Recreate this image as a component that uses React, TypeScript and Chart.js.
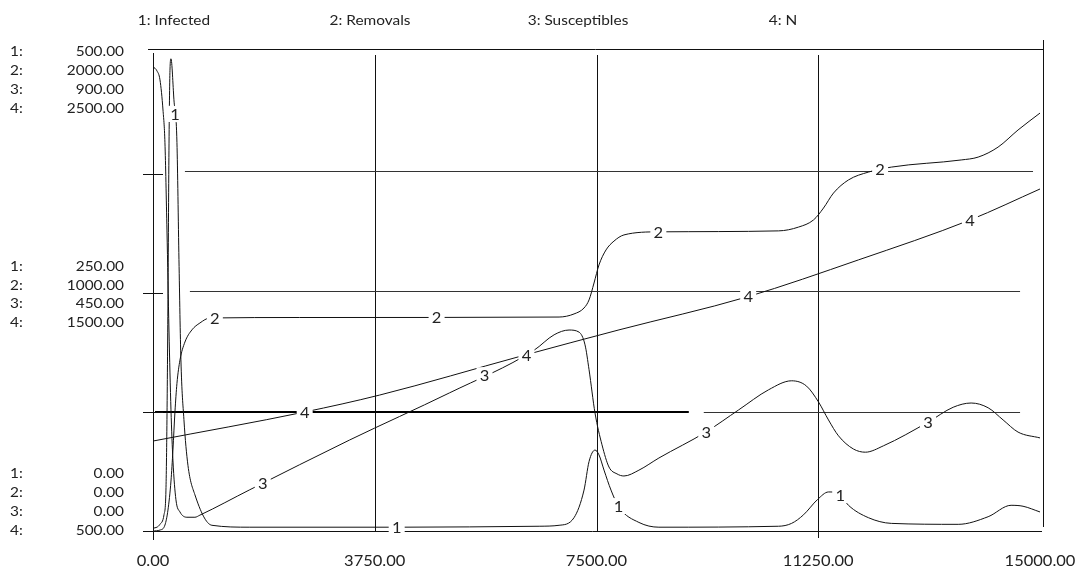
import React, { useEffect, useRef } from "react";
import { Chart, registerables } from "chart.js";

Chart.register(...registerables);

// ---------- data ----------
const seriesNames = ["Infected", "Removals", "Susceptibles", "N"];
const axisMin = [0, 0, 0, 500];
const axisMax = [500, 2000, 900, 2500];
const xTicks = [0, 3750, 7500, 11250, 15000];

const infectedTime = [0, 67, 118, 186, 219, 236, 253, 270, 287, 304, 354, 405, 439, 472, 523, 591, 709, 996, 1637, 4168, 6530, 6867, 7120, 7289, 7374, 7475, 7542, 7627, 7745, 7880, 8217, 8555, 10579, 10799, 11001, 11237, 11423, 11592, 11761, 12098, 12486, 13617, 14123, 14511, 14713, 15000];
const infectedValues = [3, 4, 7, 17, 43, 117, 243, 400, 484, 496, 453, 408, 285, 180, 117, 69, 38, 6, 4, 4, 5, 6, 14, 43, 73, 85, 80, 64, 43, 25, 9, 4, 5, 8, 17, 33, 41, 40, 27, 14, 8, 7, 15, 27, 26, 20];

const removalsTime = [0, 118, 202, 253, 304, 337, 371, 405, 456, 540, 658, 793, 962, 2480, 6867, 7120, 7289, 7374, 7458, 7542, 7661, 7795, 7964, 8555, 10579, 10917, 11170, 11339, 11508, 11761, 12098, 12486, 13667, 13954, 14291, 14629, 15000];
const removalsValues = [0, 4, 25, 88, 210, 340, 500, 620, 718, 794, 845, 874, 895, 897, 899, 912, 937, 971, 1042, 1118, 1181, 1218, 1244, 1257, 1261, 1277, 1307, 1357, 1420, 1475, 1508, 1529, 1559, 1571, 1613, 1685, 1756];

const susceptiblesTime = [0, 67, 118, 169, 202, 236, 270, 304, 337, 388, 456, 574, 709, 793, 1637, 3324, 5011, 6446, 6783, 7036, 7205, 7306, 7374, 7475, 7593, 7711, 7846, 7964, 8217, 8555, 9348, 9904, 10410, 10799, 11052, 11254, 11423, 11592, 11845, 12047, 12351, 13110, 13532, 13836, 14123, 14376, 14629, 15000];
const susceptiblesValues = [878, 870, 853, 796, 734, 569, 380, 229, 134, 59, 36, 26, 26, 30, 78, 172, 261, 342, 371, 380, 376, 352, 305, 223, 163, 121, 108, 104, 115, 138, 187, 229, 267, 284, 274, 244, 210, 180, 155, 149, 161, 206, 234, 242, 233, 210, 187, 176];

const nTime = [0, 2565, 3830, 6226, 7880, 10039, 11929, 13819, 15000];
const nValues = [878, 1000, 1071, 1235, 1345, 1483, 1639, 1807, 1937];

const seriesTimes = [infectedTime, removalsTime, susceptiblesTime, nTime];
const seriesValues = [infectedValues, removalsValues, susceptiblesValues, nValues];

// curve-number label times (Stella style)
const labelOffsets = [371, 1046, 1856, 2565];
const labelInterval = 3750;
const labelCount = 4;

// ---------- style ----------
const FONT = "Lato, 'Open Sans', sans-serif";
const SX = 1.1;

function txt(ctx: CanvasRenderingContext2D, s: string, x: number, y: number, align: CanvasTextAlign, size = 14) {
  ctx.save();
  ctx.translate(x, y);
  ctx.scale(SX, 1);
  ctx.font = `${size}px ${FONT}`;
  ctx.textAlign = align;
  ctx.textBaseline = "middle";
  ctx.fillStyle = "#222";
  ctx.fillText(s, 0, 0);
  ctx.restore();
}

function interp(ts: number[], vs: number[], t: number) {
  if (t <= ts[0]) return vs[0];
  for (let i = 1; i < ts.length; i++) {
    if (t <= ts[i]) {
      const f = (t - ts[i - 1]) / (ts[i] - ts[i - 1]);
      return vs[i - 1] + f * (vs[i] - vs[i - 1]);
    }
  }
  return vs[vs.length - 1];
}

function fmt(v: number) {
  return v.toFixed(2);
}

const stellaPlugin = {
  id: "stella",
  beforeDatasetsDraw(chart: any) {
    const ctx: CanvasRenderingContext2D = chart.ctx;
    const a = chart.chartArea;
    const xs = chart.scales.x;
    const yPix = (f: number) => a.bottom - f * (a.bottom - a.top);
    ctx.save();
    const line = (x0: number, y0: number, x1: number, y1: number, w = 1, c = "#111") => {
      ctx.beginPath();
      ctx.lineWidth = w;
      ctx.strokeStyle = c;
      ctx.moveTo(x0, y0);
      ctx.lineTo(x1, y1);
      ctx.stroke();
    };
    // frame
    line(a.left - 5, a.top - 5.5, a.right + 3, a.top - 5.5);
    line(a.left + 0.5, a.top - 2, a.left + 0.5, a.bottom + 9);
    line(a.right + 3.5, a.top - 15, a.right + 3.5, a.bottom - 4);
    line(a.left - 10, a.bottom + 0.5, a.right + 2, a.bottom + 0.5);
    // vertical grid
    for (let i = 1; i < xTicks.length - 1; i++) {
      const x = Math.round(xs.getPixelForValue(xTicks[i])) + 0.5;
      line(x, a.top, x, a.bottom + (i === 3 ? 7 : 0));
    }
    // horizontal grid segments [fraction, t0, t1, width, shift]
    const segs: [number, number, number, number, number][] = [
      [0.75, 540, 14882, 1, -3],
      [0.5, 624, 14663, 1, -2],
      [0.25, 34, 9061, 2, 0],
      [0.25, 9314, 14663, 1, 0],
    ];
    segs.forEach(([f, t0, t1, w, sh]) => {
      const y = Math.round(yPix(f)) + sh + (w === 1 ? 0.5 : 0);
      line(xs.getPixelForValue(t0), y, xs.getPixelForValue(t1), y, w, w === 1 ? "#333" : "#000");
    });
    // left ticks
    [0.25, 0.5, 0.75].forEach((f) => {
      const y = Math.round(yPix(f)) + 0.5;
      line(a.left - 10, y, a.left + 10, y);
    });
    ctx.restore();
  },
  afterDatasetsDraw(chart: any) {
    const ctx: CanvasRenderingContext2D = chart.ctx;
    const xs = chart.scales.x;
    ctx.save();
    // curve number labels with white knock-out boxes
    for (let s = 0; s < 4; s++) {
      const ys = chart.scales["y" + (s + 1)];
      for (let k = 0; k < labelCount; k++) {
        const t = labelOffsets[s] + k * labelInterval;
        const v = interp(seriesTimes[s], seriesValues[s], t);
        const x = xs.getPixelForValue(t);
        const y = ys.getPixelForValue(v);
        ctx.fillStyle = "#fff";
        ctx.fillRect(x - 8, y - 8, 16, 16);
        txt(ctx, String(s + 1), x, y + 1, "center", 15);
      }
    }
    // legend
    const legendX = [174, 370, 578, 783];
    seriesNames.forEach((n, i) => txt(ctx, `${i + 1}: ${n}`, legendX[i], 20, "center"));
    // left axis labels
    const blocks: [number, number[]][] = [
      [1, [51, 70, 89, 108]],
      [0.5, [266, 285, 303, 322]],
      [0, [473, 492, 511, 530]],
    ];
    blocks.forEach(([f, rows]) => {
      for (let s = 0; s < 4; s++) {
        const v = axisMin[s] + f * (axisMax[s] - axisMin[s]);
        txt(ctx, `${s + 1}:`, 10, rows[s], "left");
        txt(ctx, fmt(v), 124, rows[s], "right");
      }
    });
    // x tick labels
    xTicks.forEach((t) => {
      const x = xs.getPixelForValue(t);
      txt(ctx, fmt(t), x, 561, "center", 15);
    });
    ctx.restore();
  },
};

export default function App() {
  const ref = useRef<HTMLCanvasElement>(null);
  useEffect(() => {
    document.body.style.margin = "0";
    const canvas = ref.current!;
    const datasets = seriesNames.map((n, s) => ({
      label: n,
      data: seriesTimes[s].map((t, i) => ({ x: t, y: seriesValues[s][i] })),
      yAxisID: "y" + (s + 1),
      borderColor: "#111",
      borderWidth: 1,
      pointRadius: 0,
      fill: false,
      cubicInterpolationMode: "monotone" as const,
    }));
    const scales: any = {
      x: { type: "linear", min: xTicks[0], max: xTicks[xTicks.length - 1], display: false },
    };
    for (let s = 0; s < 4; s++) {
      scales["y" + (s + 1)] = { type: "linear", min: axisMin[s], max: axisMax[s], display: false };
    }
    const chart = new Chart(canvas, {
      type: "line",
      data: { datasets },
      options: {
        animation: false,
        responsive: false,
        devicePixelRatio: 1,
        layout: { padding: { left: 153, right: 38, top: 55, bottom: 35 } },
        plugins: { legend: { display: false }, tooltip: { enabled: false } },
        scales,
        events: [],
      },
      plugins: [stellaPlugin],
    });
    return () => chart.destroy();
  }, []);
  return (
    <div style={{ width: 1078, height: 566, background: "#fff" }}>
      <canvas ref={ref} width={1078} height={566} style={{ display: "block" }} />
    </div>
  );
}
